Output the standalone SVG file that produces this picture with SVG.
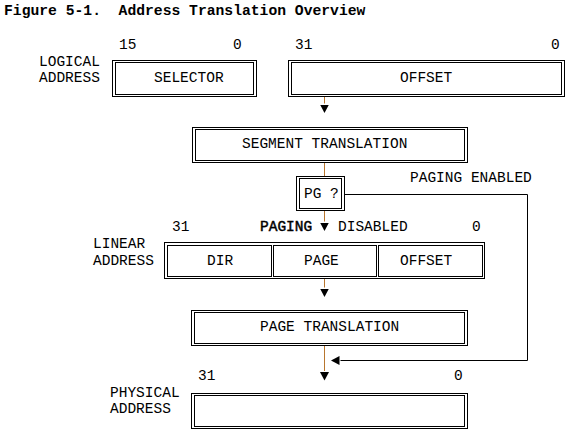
<svg xmlns="http://www.w3.org/2000/svg" width="582" height="448" viewBox="0 0 582 448">
<style>
text{font-family:"Liberation Mono","Courier New",monospace;font-size:14.5px;fill:#000;white-space:pre}
.t{font-weight:bold;font-size:14.7px}
.b{stroke:#000;stroke-width:0.45}
.box{fill:none;stroke:#000;stroke-width:1}
.v{fill:none;stroke:#b8762e;stroke-width:1}
.k{fill:none;stroke:#000;stroke-width:1}
.ah{fill:#000}
</style>
<defs>
<marker id="arr" markerUnits="userSpaceOnUse" markerWidth="10" markerHeight="10" refX="-1" refY="4.5" orient="auto">
<path d="M0,0 L8.5,4.5 L0,9 z" class="ah"/>
</marker>
</defs>
<rect x="0" y="0" width="582" height="448" fill="#fff"/>
<text class="t" x="4" y="15">Figure 5-1.  Address Translation Overview</text>

<g id="connectors">
<path class="v" d="M324.5,96.5 V103.5" marker-end="url(#arr)"/>
<path class="v" d="M324.5,162.5 V176.5"/>
<path class="v" d="M324.5,210.5 V221.5" marker-end="url(#arr)"/>
<path class="v" d="M324.5,278.5 V287.5" marker-end="url(#arr)"/>
<path class="v" d="M324.5,345.5 V371" marker-end="url(#arr)"/>
<path class="k" d="M344.5,194.5 H527.5 V360.5 H340.5" marker-end="url(#arr)"/>
</g>

<g id="logical-labels">
<text x="39" y="66">LOGICAL</text>
<text x="39" y="82">ADDRESS</text>
<text x="119" y="49">15</text>
<text x="233" y="49">0</text>
<text x="295" y="49">31</text>
<text x="551" y="49">0</text>
</g>

<g id="selector">
<rect class="box" x="112.5" y="60.5" width="144" height="36"/>
<rect class="box" x="115.5" y="62.5" width="138" height="32"/>
<text x="154" y="82">SELECTOR</text>
</g>

<g id="offset">
<rect class="box" x="288.5" y="60.5" width="276" height="36"/>
<rect class="box" x="291.5" y="62.5" width="270" height="32"/>
<text x="400" y="82">OFFSET</text>
</g>

<g id="segment-translation">
<rect class="box" x="192.5" y="127.5" width="275" height="35"/>
<rect class="box" x="195.5" y="129.5" width="269" height="31"/>
<text x="242" y="148">SEGMENT TRANSLATION</text>
</g>

<g id="pg">
<rect class="box" x="296.5" y="176.5" width="48" height="34"/>
<rect class="box" x="299.5" y="178.5" width="42" height="30"/>
<text x="304" y="198">PG ?</text>
</g>

<g id="paging-labels">
<text x="410" y="182">PAGING ENABLED</text>
<text class="b" x="260" y="231">PAGING</text>
<text x="338" y="231">DISABLED</text>
</g>

<g id="linear-address">
<text x="93" y="248">LINEAR</text>
<text x="93" y="265">ADDRESS</text>
<text x="172" y="231">31</text>
<text x="472" y="231">0</text>
<rect class="box" x="164.5" y="242.5" width="320" height="36"/>
<rect class="box" x="167.5" y="245.5" width="104" height="31"/>
<rect class="box" x="273.5" y="245.5" width="103" height="31"/>
<rect class="box" x="378.5" y="245.5" width="104" height="31"/>
<text x="207" y="265">DIR</text>
<text x="304" y="265">PAGE</text>
<text x="400" y="265">OFFSET</text>
</g>

<g id="page-translation">
<rect class="box" x="191.5" y="310.5" width="276" height="35"/>
<rect class="box" x="194.5" y="312.5" width="270" height="31"/>
<text x="260" y="331">PAGE TRANSLATION</text>
</g>

<g id="physical-address">
<text x="110" y="397">PHYSICAL</text>
<text x="110" y="413">ADDRESS</text>
<text x="198" y="380">31</text>
<text x="454" y="380">0</text>
<rect class="box" x="191.5" y="393.5" width="276" height="35"/>
<rect class="box" x="194.5" y="395.5" width="270" height="31"/>
</g>
</svg>
